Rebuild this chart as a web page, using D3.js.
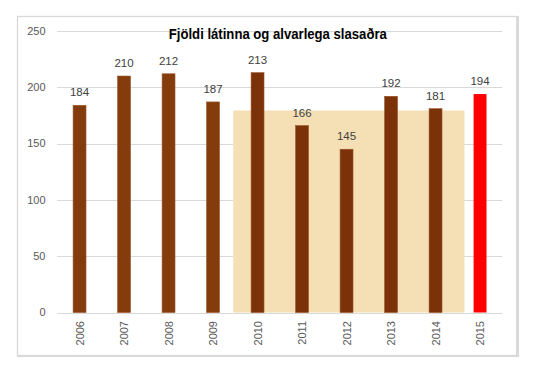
<!DOCTYPE html>
<html><head><meta charset="utf-8">
<script src="https://cdn.jsdelivr.net/npm/d3@7"></script>
<style>
html,body{margin:0;padding:0;background:#fff;}
text{font-family:"Liberation Sans","Open Sans",sans-serif;}
</style></head>
<body><svg id="c" width="545" height="372"></svg>
<script>
const years = ["2006","2007","2008","2009","2010","2011","2012","2013","2014","2015"];
const values = [184,210,212,187,213,166,145,192,181,194];
const yTicks = [0,50,100,150,200,250];
const title = "Fjöldi látinna og alvarlega slasaðra";
const bandYears = ["2010","2014"];
const highlightYear = "2015";

const svg = d3.select("#c");
const pL = 57.3, pR = 502.3, pT = 31, pB = 312.5;

const x = d3.scaleBand().domain(years).range([pL, pR]).paddingInner(0).paddingOuter(0);
const y = d3.scaleLinear().domain([0, 250]).range([pB, pT]);
const bw = x.bandwidth() * 0.29;

// chart border
svg.append("rect").attr("x",17.5).attr("y",16.5).attr("width",500).attr("height",339)
  .attr("fill","#fff").attr("stroke","#d9d9d9").attr("stroke-width",1.3);
svg.append("line").attr("x1",517.5).attr("x2",517.5).attr("y1",16).attr("y2",357).attr("stroke","#d9d9d9").attr("stroke-width",3);
svg.append("line").attr("x1",17).attr("x2",519).attr("y1",356).attr("y2",356).attr("stroke","#d9d9d9").attr("stroke-width",2);

// gridlines
svg.append("g").selectAll("line").data(yTicks).join("line")
  .attr("x1",pL).attr("x2",pR).attr("y1",d=>Math.round(y(d))+0.5).attr("y2",d=>Math.round(y(d))+0.5)
  .attr("stroke","#d9d9d9").attr("stroke-width",1);

// y-axis labels
svg.append("g").selectAll("text").data(yTicks).join("text")
  .attr("x",45.5).attr("y",d=>y(d)).attr("dy","0.35em").attr("text-anchor","end")
  .attr("font-size",11).attr("fill","#595959").text(d=>d);

// average band over 2010-2014
const i0 = years.indexOf(bandYears[0]), i1 = years.indexOf(bandYears[1]);
const avg = d3.mean(values.slice(i0, i1 + 1));
const bx0 = x(bandYears[0]) - 0.045 * x.step();
const bx1 = x(bandYears[1]) + x.step() * 1.15;
svg.append("rect")
  .attr("x", bx0).attr("width", bx1 - bx0)
  .attr("y", y(avg)).attr("height", y(0) - y(avg))
  .attr("fill","#f4e0b4");

// bars
const colour = (d,i) => d === highlightYear ? "#ff0000" : (i >= i0 && i <= i1 ? "#7c3209" : "#843c0c");
svg.append("g").selectAll("rect").data(years).join("rect")
  .attr("x",d=>x(d)+x.bandwidth()/2-bw/2).attr("width",bw)
  .attr("y",(d,i)=>y(values[i])).attr("height",(d,i)=>y(0)-y(values[i]))
  .attr("fill",(d,i)=>colour(d,i))
  .attr("stroke",(d,i)=>d===highlightYear?"none":"#9a5226").attr("stroke-width",0.6);

// data labels
svg.append("g").selectAll("text").data(years).join("text")
  .attr("x",d=>x(d)+x.bandwidth()/2).attr("y",(d,i)=>y(values[i])-9)
  .attr("text-anchor","middle").attr("font-size",11.5).attr("fill","#404040")
  .text((d,i)=>values[i]);

// x-axis labels rotated
svg.append("g").selectAll("text").data(years).join("text")
  .attr("transform",d=>`translate(${x(d)+x.bandwidth()/2+4},321) rotate(-90)`)
  .attr("text-anchor","end").attr("font-size",11).attr("fill","#595959")
  .text(d=>d);

// title
svg.append("text").attr("x",(pL+pR)/2-2).attr("y",38.5).attr("text-anchor","middle")
  .attr("font-size",14).attr("font-weight","bold").attr("fill","#000")
  .attr("textLength",218).attr("lengthAdjust","spacingAndGlyphs")
  .text(title);
</script></body></html>
